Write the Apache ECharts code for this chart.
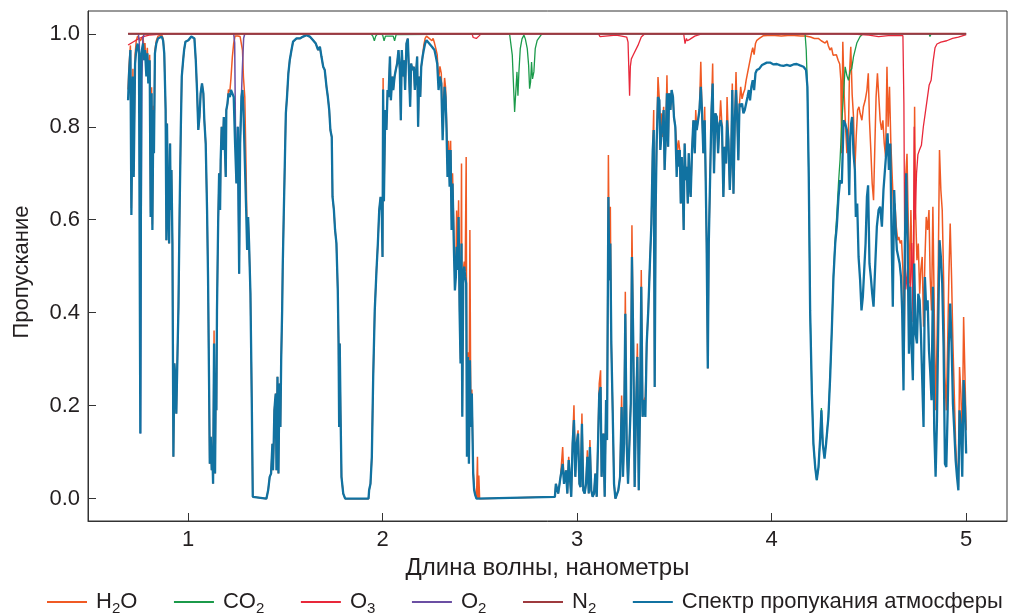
<!DOCTYPE html>
<html>
<head>
<meta charset="utf-8">
<script src="https://cdn.jsdelivr.net/npm/echarts@6/dist/echarts.min.js"></script>
<style>
  html, body { margin: 0; padding: 0; background: #fff; }
  #main { width: 1010px; height: 613px; }
</style>
</head>
<body>
<div id="main"></div>
<script>
// пропускание атмосферы, [длина волны, значение]
var spectrum = [
  [0.692,0.857],[0.697,0.915],[0.704,0.965],[0.709,0.610],[0.717,0.908],[0.721,0.692],[0.728,0.936],[0.734,0.965],[0.741,0.979],[0.748,0.958],
  [0.755,0.140],[0.760,0.958],[0.769,0.979],[0.774,0.943],[0.779,0.965],[0.786,0.908],[0.791,0.958],[0.796,0.893],[0.803,0.943],[0.808,0.606],
  [0.813,0.872],[0.817,0.578],[0.822,0.836],[0.825,0.743],[0.830,0.958],[0.837,0.979],[0.846,0.990],[0.854,0.994],[0.865,0.994],[0.872,0.986],
  [0.878,0.958],[0.885,0.836],[0.889,0.556],[0.892,0.807],[0.897,0.649],[0.903,0.549],[0.908,0.764],[0.911,0.621],[0.915,0.707],[0.920,0.549],
  [0.925,0.090],[0.930,0.291],[0.937,0.248],[0.940,0.183],[0.945,0.291],[0.951,0.413],[0.957,0.621],[0.963,0.793],[0.968,0.908],[0.975,0.943],
  [0.980,0.965],[0.987,0.983],[0.995,0.983],[1.002,0.986],[1.009,0.990],[1.017,0.994],[1.026,0.994],[1.033,0.990],[1.040,0.943],[1.047,0.872],
  [1.053,0.793],[1.059,0.821],[1.065,0.872],[1.072,0.893],[1.079,0.872],[1.084,0.814],[1.091,0.764],[1.098,0.621],[1.103,0.477],[1.108,0.262],
  [1.112,0.075],[1.117,0.133],[1.122,0.061],[1.125,0.104],[1.129,0.032],[1.134,0.334],[1.139,0.054],[1.143,0.248],[1.146,0.190],[1.149,0.405],
  [1.155,0.592],[1.160,0.700],[1.165,0.621],[1.168,0.728],[1.173,0.800],[1.179,0.750],[1.184,0.821],[1.189,0.764],[1.194,0.692],[1.197,0.836],
  [1.203,0.850],[1.208,0.872],[1.215,0.864],[1.221,0.879],[1.228,0.882],[1.235,0.864],[1.242,0.764],[1.249,0.678],[1.256,0.800],[1.263,0.484],
  [1.268,0.764],[1.275,0.864],[1.280,0.879],[1.285,0.836],[1.292,0.728],[1.299,0.621],[1.304,0.535],[1.309,0.606],[1.314,0.549],[1.321,0.441],
  [1.324,0.341],[1.328,0.205],[1.333,0.004],[1.343,0],[1.403,0],[1.412,0.018],[1.420,0.047],[1.427,0.054],[1.434,0.118],[1.437,0.061],
  [1.441,0.126],[1.444,0.190],[1.448,0.212],[1.451,0.226],[1.455,0.061],[1.460,0.262],[1.465,0.054],[1.470,0.248],[1.475,0.154],[1.479,0.298],
  [1.484,0.405],[1.487,0.499],[1.492,0.606],[1.497,0.707],[1.503,0.829],[1.509,0.864],[1.516,0.915],[1.523,0.943],[1.532,0.965],[1.540,0.983],
  [1.558,0.990],[1.575,0.990],[1.592,0.994],[1.609,0.997],[1.626,0.994],[1.643,0.986],[1.657,0.979],[1.669,0.965],[1.678,0.972],[1.686,0.951],
  [1.695,0.929],[1.703,0.922],[1.712,0.886],[1.719,0.864],[1.726,0.836],[1.732,0.793],[1.739,0.778],[1.743,0.649],[1.750,0.621],[1.756,0.578],
  [1.763,0.549],[1.770,0.448],[1.774,0.334],[1.777,0.154],[1.780,0.334],[1.784,0.190],[1.789,0.047],[1.798,0.011],[1.808,0],[1.928,0],
  [1.931,0.018],[1.938,0.032],[1.945,0.090],[1.952,0.262],[1.960,0.405],[1.969,0.492],[1.976,0.549],[1.983,0.621],[1.990,0.649],[1.996,0.620],
  [2.000,0.520],[2.003,0.880],[2.007,0.640],[2.014,0.836],[2.020,0.793],[2.026,0.879],[2.031,0.864],[2.038,0.951],[2.043,0.857],[2.050,0.908],
  [2.055,0.879],[2.062,0.908],[2.068,0.922],[2.075,0.936],[2.082,0.965],[2.089,0.922],[2.094,0.814],[2.099,0.965],[2.106,0.908],[2.111,0.943],
  [2.116,0.879],[2.123,0.979],[2.130,0.990],[2.137,0.986],[2.142,0.843],[2.147,0.936],[2.154,0.922],[2.161,0.929],[2.166,0.879],[2.171,0.908],
  [2.178,0.951],[2.183,0.800],[2.188,0.908],[2.194,0.864],[2.199,0.929],[2.206,0.951],[2.212,0.965],[2.219,0.979],[2.226,0.986],[2.233,0.983],
  [2.240,0.979],[2.247,0.979],[2.254,0.972],[2.260,0.976],[2.267,0.965],[2.274,0.951],[2.281,0.936],[2.288,0.879],[2.295,0.908],[2.302,0.893],
  [2.309,0.771],[2.314,0.836],[2.319,0.886],[2.324,0.864],[2.329,0.793],[2.334,0.692],[2.339,0.750],[2.345,0.671],[2.350,0.750],[2.355,0.578],
  [2.360,0.678],[2.367,0.535],[2.372,0.448],[2.377,0.477],[2.381,0.542],[2.386,0.492],[2.391,0.606],[2.396,0.405],[2.401,0.291],[2.406,0.549],
  [2.410,0.176],[2.415,0.477],[2.420,0.499],[2.425,0.477],[2.430,0.463],[2.434,0.090],[2.439,0.305],[2.444,0.075],[2.449,0.298],[2.454,0.154],
  [2.459,0.226],[2.466,0.054],[2.471,0.018],[2.477,0.007],[2.483,0],[2.886,0.004],[2.891,0.032],[2.903,0.011],[2.915,0.047],[2.926,0.075],
  [2.933,0.032],[2.943,0.061],[2.950,0.011],[2.957,0.083],[2.963,0.047],[2.970,0.004],[2.977,0.118],[2.984,0.169],[2.991,0.047],[2.998,0.118],
  [3.005,0.140],[3.012,0.032],[3.018,0.025],[3.025,0.161],[3.032,0.018],[3.039,0.011],[3.046,0.032],[3.053,0.090],[3.060,0.011],[3.066,0.111],
  [3.073,0.018],[3.080,0.004],[3.087,0.011],[3.094,0.054],[3.101,0.004],[3.108,0.004],[3.114,0.226],[3.121,0.240],[3.126,0.047],[3.135,0.140],
  [3.142,0.004],[3.149,0.212],[3.154,0.126],[3.161,0.649],[3.166,0.470],[3.171,0.549],[3.176,0.334],[3.183,0.190],[3.190,0.032],[3.197,0],
  [3.204,0.004],[3.212,0.018],[3.221,0.047],[3.229,0.197],[3.236,0.047],[3.241,0.118],[3.248,0.398],[3.255,0.118],[3.262,0.032],[3.269,0.118],
  [3.276,0.205],[3.282,0.520],[3.289,0.334],[3.296,0.025],[3.303,0.190],[3.310,0.305],[3.317,0.018],[3.324,0.205],[3.330,0.456],[3.337,0.176],
  [3.344,0.212],[3.351,0.176],[3.358,0.334],[3.366,0.405],[3.375,0.513],[3.382,0.592],[3.389,0.750],[3.394,0.793],[3.399,0.240],[3.404,0.621],
  [3.409,0.764],[3.416,0.864],[3.423,0.857],[3.428,0.750],[3.433,0.778],[3.438,0.778],[3.445,0.836],[3.450,0.707],[3.456,0.778],[3.462,0.872],
  [3.468,0.757],[3.473,0.872],[3.480,0.836],[3.486,0.879],[3.493,0.864],[3.498,0.821],[3.505,0.800],[3.512,0.692],[3.517,0.750],[3.522,0.714],
  [3.528,0.750],[3.533,0.635],[3.538,0.735],[3.543,0.678],[3.548,0.578],[3.553,0.764],[3.559,0.685],[3.564,0.714],[3.569,0.635],[3.574,0.743],
  [3.579,0.678],[3.584,0.649],[3.591,0.750],[3.598,0.814],[3.605,0.743],[3.610,0.814],[3.615,0.793],[3.622,0.814],[3.629,0.836],[3.636,0.886],
  [3.642,0.836],[3.649,0.743],[3.656,0.814],[3.661,0.692],[3.666,0.549],[3.672,0.280],[3.677,0.549],[3.684,0.692],[3.691,0.836],[3.697,0.893],
  [3.704,0.700],[3.711,0.829],[3.718,0.821],[3.725,0.743],[3.732,0.807],[3.738,0.814],[3.745,0.800],[3.752,0.649],[3.759,0.757],[3.766,0.721],
  [3.771,0.814],[3.778,0.771],[3.785,0.664],[3.792,0.735],[3.798,0.879],[3.804,0.656],[3.811,0.814],[3.817,0.879],[3.824,0.807],[3.829,0.728],
  [3.835,0.850],[3.841,0.843],[3.848,0.850],[3.855,0.829],[3.862,0.836],[3.869,0.850],[3.876,0.864],[3.883,0.879],[3.889,0.857],[3.896,0.886],
  [3.903,0.900],[3.910,0.879],[3.917,0.915],[3.924,0.922],[3.931,0.918],[3.937,0.925],[3.944,0.929],[3.951,0.933],[3.958,0.936],[3.975,0.938],
  [3.992,0.938],[4.010,0.934],[4.027,0.935],[4.045,0.932],[4.061,0.931],[4.078,0.933],[4.095,0.931],[4.112,0.934],[4.129,0.935],[4.146,0.932],
  [4.164,0.929],[4.177,0.922],[4.184,0.886],[4.191,0.692],[4.198,0.405],[4.207,0.226],[4.215,0.118],[4.224,0.068],[4.232,0.040],[4.241,0.068],
  [4.250,0.133],[4.256,0.190],[4.263,0.118],[4.272,0.086],[4.280,0.118],[4.292,0.176],[4.301,0.262],[4.310,0.370],[4.318,0.477],[4.327,0.549],
  [4.335,0.585],[4.344,0.649],[4.352,0.685],[4.361,0.678],[4.370,0.814],[4.378,0.807],[4.387,0.793],[4.394,0.750],[4.399,0.653],[4.404,0.778],
  [4.409,0.807],[4.414,0.821],[4.421,0.743],[4.428,0.707],[4.433,0.606],[4.440,0.635],[4.447,0.520],[4.455,0.470],[4.462,0.405],[4.469,0.434],
  [4.476,0.492],[4.483,0.549],[4.490,0.649],[4.496,0.674],[4.503,0.506],[4.510,0.477],[4.517,0.441],[4.524,0.413],[4.533,0.506],[4.541,0.585],
  [4.550,0.621],[4.558,0.628],[4.567,0.585],[4.575,0.664],[4.582,0.664],[4.589,0.743],[4.596,0.786],[4.603,0.707],[4.610,0.764],[4.616,0.585],
  [4.623,0.413],[4.630,0.664],[4.637,0.585],[4.644,0.535],[4.651,0.535],[4.658,0.506],[4.665,0.477],[4.671,0.405],[4.678,0.233],[4.685,0.549],
  [4.692,0.700],[4.699,0.549],[4.706,0.312],[4.713,0.456],[4.719,0.334],[4.726,0.255],[4.733,0.506],[4.740,0.355],[4.747,0.334],[4.754,0.441],
  [4.761,0.427],[4.767,0.362],[4.774,0.362],[4.781,0.154],[4.788,0.477],[4.795,0.405],[4.802,0.427],[4.809,0.319],[4.815,0.276],[4.822,0.212],
  [4.829,0.456],[4.836,0.147],[4.843,0.047],[4.850,0.169],[4.857,0.384],[4.863,0.556],[4.870,0.520],[4.877,0.463],[4.884,0.326],[4.891,0.075],
  [4.898,0.068],[4.905,0.190],[4.911,0.334],[4.918,0.420],[4.925,0.334],[4.932,0.205],[4.939,0.147],[4.946,0.083],[4.953,0.047],[4.960,0.018],
  [4.966,0.190],[4.973,0.154],[4.980,0.047],[4.987,0.255],[4.994,0.197],[5.000,0.097]
];

// H2O
var h2o = [
  [0.692,0.880],[0.697,0.930],[0.704,0.975],[0.709,0.625],[0.717,0.925],[0.721,0.705],[0.728,0.955],[0.734,0.985],[0.741,0.995],[0.748,0.990],
  [0.755,0.985],[0.760,0.985],[0.769,0.995],[0.774,0.960],[0.779,0.980],[0.786,0.920],[0.791,0.970],[0.796,0.905],[0.803,0.955],[0.808,0.615],
  [0.813,0.885],[0.817,0.590],[0.822,0.845],[0.825,0.755],[0.830,0.965],[0.837,0.985],[0.846,0.995],[0.854,0.998],[0.865,0.998],[0.872,0.990],
  [0.878,0.958],[0.885,0.836],[0.889,0.556],[0.892,0.807],[0.897,0.649],[0.903,0.549],[0.908,0.764],[0.911,0.621],[0.915,0.707],[0.920,0.549],
  [0.925,0.090],[0.930,0.291],[0.937,0.248],[0.940,0.183],[0.945,0.291],[0.951,0.413],[0.957,0.621],[0.963,0.793],[0.968,0.908],[0.975,0.943],
  [0.980,0.965],[0.987,0.983],[0.995,0.983],[1.002,0.986],[1.009,0.990],[1.017,0.994],[1.026,0.994],[1.033,0.990],[1.040,0.943],[1.047,0.872],
  [1.053,0.793],[1.059,0.821],[1.065,0.872],[1.072,0.893],[1.079,0.872],[1.084,0.814],[1.091,0.764],[1.098,0.621],[1.103,0.477],[1.108,0.262],
  [1.112,0.075],[1.117,0.133],[1.122,0.061],[1.125,0.104],[1.129,0.032],[1.134,0.362],[1.139,0.054],[1.143,0.248],[1.146,0.190],[1.149,0.405],
  [1.155,0.592],[1.160,0.700],[1.165,0.621],[1.168,0.728],[1.173,0.800],[1.179,0.750],[1.184,0.821],[1.189,0.764],[1.194,0.692],[1.197,0.836],
  [1.203,0.850],[1.208,0.880],[1.215,0.875],[1.221,0.905],[1.228,0.950],[1.235,0.980],[1.242,0.995],[1.249,0.997],[1.256,0.995],[1.263,0.994],
  [1.268,0.994],[1.275,0.990],[1.280,0.965],[1.285,0.907],[1.292,0.864],[1.299,0.700],[1.304,0.560],[1.309,0.606],[1.314,0.549],[1.321,0.441],
  [1.324,0.341],[1.328,0.205],[1.333,0.004],[1.343,0],[1.403,0],[1.412,0.018],[1.420,0.047],[1.427,0.054],[1.434,0.118],[1.437,0.061],
  [1.441,0.126],[1.444,0.190],[1.448,0.212],[1.451,0.226],[1.455,0.061],[1.460,0.262],[1.465,0.054],[1.470,0.248],[1.475,0.154],[1.479,0.298],
  [1.484,0.405],[1.487,0.499],[1.492,0.606],[1.497,0.707],[1.503,0.829],[1.509,0.864],[1.516,0.915],[1.523,0.943],[1.532,0.965],[1.540,0.983],
  [1.558,0.990],[1.575,0.990],[1.592,0.994],[1.609,0.997],[1.626,0.994],[1.643,0.986],[1.657,0.979],[1.669,0.965],[1.678,0.972],[1.686,0.951],
  [1.695,0.929],[1.703,0.922],[1.712,0.886],[1.719,0.864],[1.726,0.836],[1.732,0.793],[1.739,0.778],[1.743,0.649],[1.750,0.621],[1.756,0.578],
  [1.763,0.549],[1.770,0.448],[1.774,0.334],[1.777,0.154],[1.780,0.334],[1.784,0.190],[1.789,0.047],[1.798,0.011],[1.808,0],[1.928,0],
  [1.931,0.018],[1.938,0.032],[1.945,0.090],[1.952,0.262],[1.960,0.405],[1.969,0.492],[1.976,0.549],[1.983,0.621],[1.990,0.649],[1.996,0.620],
  [2.000,0.520],[2.003,0.905],[2.007,0.640],[2.014,0.836],[2.020,0.793],[2.026,0.879],[2.031,0.864],[2.038,0.951],[2.043,0.857],[2.050,0.908],
  [2.055,0.879],[2.062,0.908],[2.068,0.922],[2.075,0.936],[2.082,0.965],[2.089,0.922],[2.094,0.814],[2.099,0.965],[2.106,0.908],[2.111,0.943],
  [2.116,0.879],[2.123,0.979],[2.130,0.990],[2.137,0.986],[2.142,0.843],[2.147,0.936],[2.154,0.922],[2.161,0.929],[2.166,0.879],[2.171,0.908],
  [2.178,0.951],[2.183,0.800],[2.188,0.908],[2.194,0.864],[2.199,0.929],[2.206,0.951],[2.212,0.975],[2.219,0.990],[2.226,0.995],[2.233,0.993],
  [2.240,0.990],[2.247,0.990],[2.254,0.985],[2.260,0.990],[2.267,0.980],[2.274,0.968],[2.281,0.955],[2.288,0.900],[2.295,0.930],[2.302,0.915],
  [2.309,0.800],[2.314,0.860],[2.319,0.905],[2.324,0.885],[2.329,0.815],[2.334,0.720],[2.339,0.770],[2.345,0.700],[2.350,0.770],[2.355,0.600],
  [2.360,0.700],[2.367,0.560],[2.372,0.470],[2.377,0.500],[2.381,0.620],[2.386,0.510],[2.391,0.642],[2.396,0.420],[2.401,0.300],[2.406,0.721],
  [2.410,0.185],[2.415,0.490],[2.420,0.510],[2.425,0.490],[2.430,0.735],[2.434,0.095],[2.439,0.315],[2.444,0.080],[2.449,0.578],[2.454,0.160],
  [2.459,0.235],[2.466,0.060],[2.471,0.025],[2.477,0.010],[2.483,0],[2.488,0.090],[2.491,0],[2.495,0.050],[2.499,0],[2.886,0.004],
  [2.891,0.032],[2.903,0.011],[2.915,0.047],[2.926,0.111],[2.933,0.032],[2.943,0.061],[2.950,0.011],[2.957,0.090],[2.963,0.047],[2.970,0.004],
  [2.977,0.118],[2.984,0.201],[2.991,0.047],[2.998,0.118],[3.005,0.147],[3.012,0.032],[3.018,0.025],[3.025,0.183],[3.032,0.018],[3.039,0.011],
  [3.046,0.032],[3.053,0.104],[3.060,0.011],[3.066,0.126],[3.073,0.018],[3.080,0.004],[3.087,0.011],[3.094,0.054],[3.101,0.004],[3.108,0.004],
  [3.114,0.248],[3.121,0.276],[3.126,0.047],[3.135,0.140],[3.142,0.004],[3.149,0.212],[3.154,0.126],[3.161,0.739],[3.166,0.470],[3.171,0.628],
  [3.176,0.334],[3.183,0.190],[3.190,0.032],[3.197,0],[3.204,0.004],[3.212,0.018],[3.221,0.047],[3.229,0.222],[3.236,0.047],[3.241,0.118],
  [3.248,0.445],[3.255,0.118],[3.262,0.032],[3.269,0.118],[3.276,0.205],[3.282,0.588],[3.289,0.334],[3.296,0.025],[3.303,0.190],[3.310,0.334],
  [3.317,0.018],[3.324,0.205],[3.330,0.492],[3.337,0.176],[3.344,0.212],[3.351,0.219],[3.358,0.334],[3.366,0.405],[3.375,0.513],[3.382,0.592],
  [3.389,0.750],[3.394,0.836],[3.399,0.240],[3.404,0.621],[3.409,0.764],[3.416,0.907],[3.423,0.857],[3.428,0.750],[3.433,0.829],[3.438,0.778],
  [3.445,0.843],[3.450,0.707],[3.456,0.778],[3.462,0.911],[3.468,0.757],[3.473,0.872],[3.480,0.836],[3.486,0.879],[3.493,0.864],[3.498,0.821],
  [3.505,0.800],[3.512,0.764],[3.517,0.750],[3.522,0.771],[3.528,0.750],[3.533,0.635],[3.538,0.735],[3.543,0.678],[3.548,0.578],[3.553,0.764],
  [3.559,0.685],[3.564,0.714],[3.569,0.635],[3.574,0.743],[3.579,0.678],[3.584,0.649],[3.591,0.750],[3.598,0.814],[3.605,0.743],[3.610,0.836],
  [3.615,0.793],[3.622,0.814],[3.629,0.836],[3.636,0.940],[3.642,0.836],[3.649,0.743],[3.656,0.843],[3.661,0.692],[3.666,0.549],[3.672,0.280],
  [3.677,0.549],[3.684,0.692],[3.691,0.836],[3.697,0.936],[3.704,0.700],[3.711,0.829],[3.718,0.821],[3.725,0.743],[3.732,0.807],[3.738,0.857],
  [3.745,0.800],[3.752,0.649],[3.759,0.757],[3.766,0.721],[3.771,0.864],[3.778,0.771],[3.785,0.664],[3.792,0.735],[3.798,0.893],[3.804,0.656],
  [3.811,0.814],[3.817,0.918],[3.824,0.807],[3.829,0.728],[3.835,0.850],[3.841,0.886],[3.848,0.860],[3.855,0.872],[3.862,0.880],[3.869,0.900],
  [3.876,0.915],[3.883,0.930],[3.889,0.943],[3.896,0.958],[3.903,0.970],[3.910,0.955],[3.917,0.979],[3.924,0.986],[3.931,0.982],[3.937,0.990],
  [3.944,0.994],[3.958,0.996],[4.000,0.997],[4.050,0.995],[4.100,0.997],[4.150,0.995],[4.175,0.995],[4.200,0.993],[4.220,0.990],[4.240,0.990],
  [4.255,0.985],[4.265,0.989],[4.275,0.980],[4.285,0.985],[4.291,0.975],[4.300,0.965],[4.308,0.970],[4.316,0.954],[4.325,0.950],[4.333,0.955],
  [4.342,0.943],[4.350,0.935],[4.356,0.900],[4.360,0.743],[4.366,0.983],[4.373,0.870],[4.380,0.800],[4.387,0.743],[4.394,0.770],[4.400,0.910],
  [4.407,0.972],[4.414,0.870],[4.421,0.821],[4.428,0.707],[4.435,0.780],[4.442,0.836],[4.449,0.843],[4.455,0.829],[4.464,0.814],[4.472,0.843],
  [4.481,0.857],[4.490,0.879],[4.497,0.915],[4.503,0.814],[4.510,0.750],[4.517,0.678],[4.524,0.642],[4.531,0.764],[4.537,0.864],[4.544,0.915],
  [4.551,0.864],[4.558,0.814],[4.565,0.793],[4.572,0.814],[4.579,0.764],[4.586,0.735],[4.593,0.929],[4.599,0.800],[4.606,0.886],[4.613,0.764],
  [4.620,0.692],[4.627,0.621],[4.634,0.635],[4.641,0.585],[4.648,0.556],[4.654,0.563],[4.661,0.549],[4.668,0.556],[4.675,0.492],[4.682,0.334],
  [4.689,0.692],[4.696,0.742],[4.702,0.606],[4.709,0.463],[4.716,0.621],[4.723,0.477],[4.730,0.405],[4.735,0.843],[4.740,0.621],[4.747,0.513],
  [4.754,0.549],[4.761,0.441],[4.767,0.492],[4.774,0.520],[4.781,0.370],[4.788,0.513],[4.795,0.606],[4.802,0.578],[4.809,0.621],[4.815,0.477],
  [4.822,0.405],[4.829,0.628],[4.836,0.405],[4.843,0.190],[4.850,0.334],[4.857,0.513],[4.863,0.750],[4.870,0.664],[4.877,0.621],[4.884,0.477],
  [4.891,0.262],[4.898,0.190],[4.905,0.334],[4.911,0.477],[4.918,0.592],[4.925,0.477],[4.932,0.334],[4.939,0.226],[4.946,0.118],[4.953,0.061],
  [4.960,0.025],[4.966,0.283],[4.973,0.226],[4.980,0.118],[4.987,0.391],[4.994,0.262],[5.000,0.147]
];

// CO2
var co2 = [
  [0.692,1],[1.940,1],[1.950,0.995],[1.958,0.985],[1.965,0.995],[1.975,1],[2.000,0.998],[2.008,0.985],[2.015,0.995],[2.055,0.995],
  [2.062,0.985],[2.070,0.998],[2.080,1],[2.653,1],[2.667,0.954],[2.674,0.882],[2.679,0.832],[2.686,0.882],[2.691,0.918],[2.696,0.867],
  [2.701,0.918],[2.708,0.968],[2.717,0.989],[2.727,0.997],[2.734,0.989],[2.744,0.968],[2.751,0.932],[2.756,0.882],[2.761,0.896],[2.766,0.939],
  [2.771,0.903],[2.778,0.918],[2.785,0.968],[2.795,0.986],[2.807,0.993],[2.819,1],[4.172,1],[4.178,0.965],[4.184,0.886],[4.191,0.692],
  [4.198,0.405],[4.207,0.226],[4.215,0.118],[4.224,0.068],[4.232,0.040],[4.241,0.068],[4.250,0.133],[4.256,0.195],[4.263,0.118],[4.272,0.090],
  [4.280,0.120],[4.292,0.180],[4.301,0.265],[4.310,0.370],[4.318,0.480],[4.327,0.560],[4.335,0.610],[4.344,0.680],[4.352,0.730],[4.361,0.810],
  [4.370,0.872],[4.378,0.929],[4.387,0.910],[4.395,0.900],[4.404,0.920],[4.412,0.925],[4.421,0.951],[4.438,0.980],[4.455,0.994],[4.470,1],
  [4.810,1],[4.814,0.994],[4.820,1],[5.000,1]
];

// O3
var o3 = [
  [0.692,0.976],[0.700,0.978],[0.720,0.983],[0.740,0.988],[0.760,0.992],[0.780,0.995],[0.800,0.997],[0.850,0.999],[0.900,1],[2.460,1],
  [2.466,0.992],[2.474,0.995],[2.482,0.990],[2.495,0.995],[2.507,1],[3.110,1],[3.118,0.994],[3.126,0.996],[3.200,0.997],[3.230,0.995],
  [3.255,0.993],[3.262,0.982],[3.270,0.867],[3.274,0.930],[3.279,0.946],[3.288,0.954],[3.296,0.957],[3.313,0.975],[3.330,0.993],[3.348,1],
  [3.548,1],[3.555,0.979],[3.562,0.990],[3.567,0.985],[3.579,0.988],[3.605,0.995],[3.640,1],[4.400,1],[4.500,0.997],[4.550,0.994],
  [4.600,0.996],[4.675,0.996],[4.680,0.850],[4.684,0.550],[4.690,0.450],[4.700,0.500],[4.710,0.420],[4.720,0.550],[4.727,0.380],[4.733,0.800],
  [4.738,0.600],[4.745,0.700],[4.752,0.740],[4.760,0.750],[4.770,0.760],[4.780,0.800],[4.790,0.830],[4.800,0.860],[4.810,0.890],[4.820,0.900],
  [4.830,0.940],[4.840,0.970],[4.850,0.978],[4.870,0.982],[4.900,0.985],[4.930,0.990],[4.960,0.993],[5.000,0.998]
];

// O2
var o2 = [
  [0.692,1],[0.745,1],[0.750,0.980],[0.754,0.600],[0.756,0.140],[0.759,0.550],[0.763,0.900],[0.768,0.990],[0.775,1],[1.235,1],
  [1.240,0.980],[1.244,0.800],[1.249,0.680],[1.255,0.800],[1.263,0.484],[1.268,0.770],[1.275,0.870],[1.280,0.930],[1.286,0.990],[1.292,1],
  [5.000,1]
];

// N2
var n2 = [[0.692,1],[5.000,1]];

var seriesNames = ["H2O", "CO2", "O3", "O2", "N2", "Спектр пропукания атмосферы"];
var legendLabels = {
  "H2O": "H{sub|2}O",
  "CO2": "CO{sub|2}",
  "O3": "O{sub|3}",
  "O2": "O{sub|2}",
  "N2": "N{sub|2}",
  "Спектр пропукания атмосферы": "Спектр пропукания атмосферы"
};
var colors = ["#f05a24", "#1b9a4a", "#e8283a", "#6b4fa3", "#9e3a3e", "#1172a1"];

var font = "'Liberation Sans', Arial, sans-serif";
var myChart = echarts.init(document.getElementById("main"));

function line(name, data, color, width, z) {
  return {
    name: name,
    type: "line",
    data: data,
    symbol: "none",
    showSymbol: false,
    color: color,
    lineStyle: { color: color, width: width },
    z: z,
    silent: true,
    animation: false
  };
}

var option = {
  animation: false,
  color: colors,
  grid: {
    left: 88,
    right: 3,
    top: 11,
    bottom: 92,
    show: true,
    borderColor: "#333",
    borderWidth: 1
  },
  legend: {
    data: seriesNames,
    left: 42,
    top: 583,
    icon: "rect",
    itemWidth: 40,
    itemHeight: 2,
    itemGap: 36.6,
    formatter: function (name) {
      return legendLabels[name];
    },
    textStyle: {
      fontFamily: font,
      fontSize: 22,
      lineHeight: 28,
      color: "#231f20",
      padding: [0, 0, 0, 4],
      rich: {
        sub: {
          fontFamily: font,
          fontSize: 15,
          lineHeight: 15,
          verticalAlign: "bottom",
          color: "#231f20"
        }
      }
    }
  },
  xAxis: {
    type: "value",
    min: 0.486,
    max: 5.21,
    splitNumber: 5,
    name: "Длина волны, нанометры",
    nameLocation: "middle",
    nameGap: 30,
    nameTextStyle: { fontFamily: font, fontSize: 24, color: "#231f20" },
    axisLine: { show: true, onZero: false, lineStyle: { color: "#333", width: 1 } },
    axisTick: { show: true, inside: true, length: 8, lineStyle: { color: "#333" } },
    splitLine: { show: false },
    axisLabel: {
      margin: 8,
      fontFamily: font,
      fontSize: 22,
      color: "#231f20",
      showMinLabel: false,
      showMaxLabel: false,
      formatter: function (v) {
        return Math.abs(v - Math.round(v)) < 1e-6 ? String(Math.round(v)) : "";
      }
    }
  },
  yAxis: {
    type: "value",
    min: -0.048,
    max: 1.049,
    splitNumber: 5,
    name: "Пропускание",
    nameLocation: "middle",
    nameRotate: 90,
    nameGap: 55,
    nameTextStyle: { fontFamily: font, fontSize: 22, color: "#231f20", padding: [0, 12, 0, 0] },
    axisLine: { show: true, onZero: false, lineStyle: { color: "#333", width: 1 } },
    axisTick: { show: true, inside: true, length: 8, lineStyle: { color: "#333" } },
    splitLine: { show: false },
    axisLabel: {
      margin: 8,
      fontFamily: font,
      fontSize: 22,
      color: "#231f20",
      showMinLabel: false,
      showMaxLabel: false,
      formatter: function (v) {
        return Math.abs(v * 5 - Math.round(v * 5)) < 1e-6 ? v.toFixed(1) : "";
      }
    }
  },
  series: [
    line(seriesNames[0], h2o, colors[0], 1.5, 2),
    line(seriesNames[1], co2, colors[1], 1.3, 3),
    line(seriesNames[2], o3, colors[2], 1.3, 4),
    line(seriesNames[3], o2, colors[3], 1.5, 5),
    line(seriesNames[4], n2, colors[4], 2, 7),
    line(seriesNames[5], spectrum, colors[5], 2.3, 6)
  ]
};

myChart.setOption(option);
window.addEventListener("resize", myChart.resize);
</script>
</body>
</html>
